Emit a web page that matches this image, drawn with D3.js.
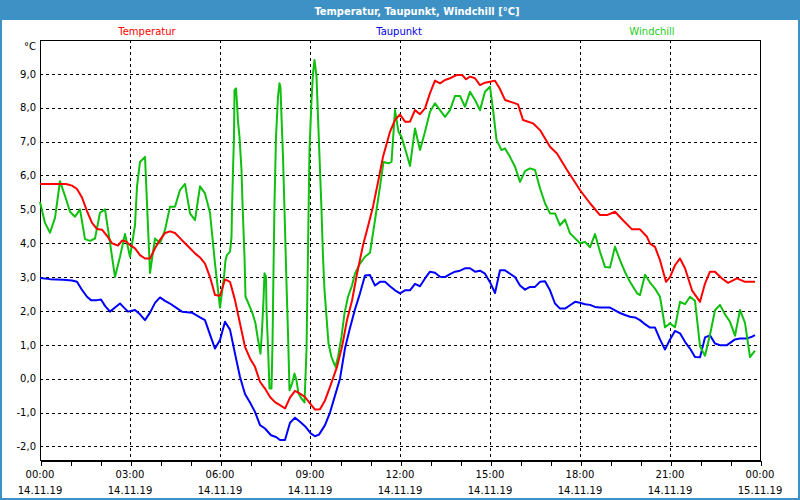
<!DOCTYPE html>
<html><head><meta charset="utf-8">
<script src="https://cdn.jsdelivr.net/npm/d3@7"></script>
<style>
html,body{margin:0;padding:0;background:#fff;}
svg{display:block;}
text{font-family:"DejaVu Sans",sans-serif;}
</style></head>
<body>
<svg id="chart" width="800" height="500"></svg>
<script>
// ---- data (time in minutes after 14.11.19 00:00, values in °C) ----
const chartTitle = "Temperatur, Taupunkt, Windchill [°C]";
const seriesNames = ["Temperatur", "Taupunkt", "Windchill"];
const yTickValues = [-2, -1, 0, 1, 2, 3, 4, 5, 6, 7, 8, 9];
const xTickTimes = ["00:00","03:00","06:00","09:00","12:00","15:00","18:00","21:00","00:00"];
const xTickDates = ["14.11.19","14.11.19","14.11.19","14.11.19","14.11.19","14.11.19","14.11.19","14.11.19","15.11.19"];

const tempMinutes = [0,52,64,74,84,94,104,114,124,134,144,156,164,172,180,190,200,210,220,230,240,250,260,270,280,290,300,310,320,330,340,350,360,370,380,390,400,410,420,430,440,450,460,470,480,490,500,510,520,530,540,550,560,570,580,594,604,614,624,634,646,656,666,676,686,700,710,720,730,740,750,760,770,780,790,800,810,820,834,844,852,860,870,880,890,900,910,920,930,946,956,966,986,1000,1020,1034,1054,1080,1100,1120,1134,1150,1166,1184,1200,1214,1220,1230,1240,1252,1260,1270,1280,1290,1304,1320,1330,1340,1350,1364,1376,1394,1410,1430];
const tempValues = [5.75,5.75,5.7,5.6,5.35,4.95,4.6,4.42,4.4,4.22,4.0,3.93,4.08,4.05,3.95,3.85,3.65,3.55,3.55,3.85,4.1,4.3,4.35,4.3,4.15,4.0,3.85,3.7,3.58,3.4,3.0,2.47,2.45,2.93,2.86,2.32,1.63,0.94,0.6,0.35,-0.09,-0.29,-0.54,-0.69,-0.78,-0.88,-0.56,-0.36,-0.44,-0.54,-0.73,-0.91,-0.9,-0.64,-0.24,0.35,0.94,1.73,2.3,3.1,3.94,4.5,5.08,5.8,6.55,7.29,7.64,7.8,7.59,7.59,7.93,7.81,7.98,8.43,8.8,8.72,8.82,8.87,8.97,8.97,8.84,8.92,8.87,8.67,8.74,8.77,8.8,8.55,8.23,8.15,8.1,7.64,7.54,7.34,6.85,6.65,6.16,5.57,5.18,4.83,4.83,4.93,4.68,4.41,4.41,4.19,3.99,3.89,3.5,2.86,3.0,3.35,3.55,3.26,2.61,2.27,2.81,3.16,3.16,2.96,2.83,2.96,2.86,2.86];

const dewMinutes = [0,20,46,64,74,84,94,102,114,122,130,140,150,160,168,176,190,200,210,220,230,240,250,260,272,284,304,320,330,340,350,360,370,380,390,400,410,420,430,440,450,462,472,480,490,500,510,520,530,542,550,558,570,580,590,600,610,620,630,640,650,660,670,680,690,700,710,720,730,740,750,760,770,780,790,800,810,820,830,840,850,860,870,880,890,900,910,920,930,940,950,960,970,980,990,1000,1010,1020,1030,1040,1050,1060,1070,1080,1090,1100,1110,1120,1140,1150,1160,1170,1180,1190,1200,1210,1220,1230,1240,1250,1260,1270,1280,1290,1300,1310,1320,1330,1340,1350,1360,1374,1390,1400,1414,1424,1430];
const dewValues = [2.97,2.94,2.92,2.9,2.86,2.62,2.42,2.32,2.32,2.34,2.15,1.98,2.1,2.22,2.1,1.98,2.03,1.9,1.73,1.95,2.24,2.4,2.3,2.22,2.1,1.98,1.95,1.81,1.73,1.3,0.89,1.14,1.68,1.45,0.74,0.05,-0.45,-0.7,-0.98,-1.37,-1.47,-1.67,-1.72,-1.81,-1.81,-1.3,-1.15,-1.27,-1.4,-1.62,-1.7,-1.65,-1.37,-1.0,-0.5,0.0,0.9,1.5,2.05,2.52,3.05,3.06,2.75,2.86,2.86,2.73,2.61,2.52,2.61,2.61,2.8,2.73,2.96,3.16,3.13,3.01,3.0,3.09,3.16,3.19,3.26,3.26,3.16,3.19,3.1,2.85,2.53,3.2,3.2,3.1,3.0,2.75,2.63,2.71,2.71,2.86,2.88,2.61,2.22,2.07,2.07,2.17,2.27,2.24,2.2,2.18,2.12,2.1,2.1,2.02,1.94,1.88,1.83,1.81,1.73,1.61,1.51,1.51,1.16,0.86,1.16,1.41,1.34,1.09,0.89,0.64,0.63,1.22,1.28,1.04,0.99,0.99,1.16,1.19,1.19,1.24,1.29];

const chillMinutes = [0,10,20,30,40,50,60,70,80,90,100,110,120,130,140,150,160,170,180,190,194,200,210,220,230,240,250,260,270,280,290,300,310,320,330,340,350,360,368,371,374,380,383,384,386,388,389,392,394,396,399,403,405,409,411,417,425,431,435,441,444,447,449,452,453,456,459,463,465,467,469,472,476,479,481,483,486,489,493,496,499,504,509,513,517,523,529,533,536,539,543,546,549,553,556,559,563,566,569,573,577,583,591,596,603,609,616,624,630,640,650,660,670,680,687,697,703,710,717,723,733,740,750,760,770,780,790,800,810,820,830,840,850,860,870,880,890,900,907,913,923,930,940,950,960,970,980,990,1000,1010,1020,1030,1040,1050,1060,1080,1090,1100,1110,1120,1130,1140,1150,1160,1170,1180,1194,1200,1210,1220,1230,1240,1250,1260,1270,1280,1290,1300,1310,1320,1330,1340,1350,1360,1370,1380,1390,1400,1410,1420,1430];
const chillValues = [5.22,4.6,4.31,4.75,5.83,5.4,4.93,4.78,5.0,4.12,4.07,4.14,4.9,5.0,4.02,3.0,3.6,4.27,3.6,4.53,5.67,6.4,6.55,3.12,4.14,4.0,4.39,5.08,5.08,5.57,5.75,4.88,4.68,5.68,5.47,4.9,3.4,2.1,3.01,3.5,3.65,3.75,4.19,4.98,6.16,7.14,8.52,8.57,8.13,7.59,7.14,6.16,5.18,3.6,2.42,2.22,1.93,1.63,1.24,0.74,1.43,2.32,3.11,3.01,2.02,0.94,-0.29,-0.29,1.04,3.2,5.18,7.14,8.33,8.72,8.6,7.73,6.55,4.98,2.81,1.34,-0.34,-0.15,0.15,-0.05,-0.44,-0.59,-0.7,0.84,3.8,6.75,8.23,9.02,9.41,8.92,7.73,6.55,4.98,3.6,2.61,1.83,1.04,0.64,0.35,0.64,1.24,1.93,2.42,2.75,3.11,3.4,3.6,3.72,4.68,5.67,6.4,6.36,6.4,7.93,7.29,7.14,6.65,6.28,7.39,6.75,7.29,7.88,8.13,7.93,7.73,7.93,8.35,8.35,8.03,8.47,8.23,7.93,8.47,8.62,7.83,7.05,6.75,6.8,6.55,6.26,5.81,6.13,6.21,6.16,5.62,5.18,4.88,4.88,4.53,4.7,4.29,4.0,4.04,3.88,4.27,3.75,3.3,3.28,3.9,3.5,3.15,2.86,2.52,2.47,3.07,2.84,2.66,2.42,1.52,1.64,1.52,2.27,2.2,2.42,2.3,0.96,0.68,1.3,2.02,2.18,1.9,1.68,1.27,2.03,1.65,0.64,0.83];

const lineColors = ["#ff0000", "#0000ff", "#10c010"];
const legendColors = ["#ff0000", "#0000e6", "#22cc22"];

// ---- drawing ----
const W = 800, H = 500;
const M = {left: 40, right: 40, top: 40, bottom: 40};
const svg = d3.select("#chart");

// window frame
svg.append("rect").attr("x",0).attr("y",0).attr("width",W).attr("height",H).attr("fill","#3d91c5");
svg.append("rect").attr("x",2).attr("y",20).attr("width",W-4).attr("height",H-22).attr("fill","#ffffff");
svg.append("text").attr("x",417).attr("y",15).attr("text-anchor","middle")
  .attr("fill","#ffffff").style("font-family","'DejaVu Sans Condensed','DejaVu Sans',sans-serif")
  .style("font-weight","bold").style("font-size","11px").text(chartTitle);

const x = d3.scaleLinear().domain([0, 1440]).range([M.left, W - M.right]);
const y = d3.scaleLinear().domain([-2.4, 10]).range([H - M.bottom, M.top]);

// grid
const grid = svg.append("g").attr("shape-rendering","crispEdges");
grid.selectAll("line.h").data(yTickValues).join("line")
  .attr("x1", x(0)).attr("x2", x(1440))
  .attr("y1", d => Math.round(y(d)) + 0.5).attr("y2", d => Math.round(y(d)) + 0.5)
  .attr("stroke","#000").attr("stroke-width",1).attr("stroke-dasharray","3,3");
const vGrid = d3.range(180, 1440, 180);
grid.selectAll("line.v").data(vGrid).join("line")
  .attr("y1", y(10)).attr("y2", y(-2.4))
  .attr("x1", d => Math.round(x(d)) + 0.5).attr("x2", d => Math.round(x(d)) + 0.5)
  .attr("stroke","#000").attr("stroke-width",1).attr("stroke-dasharray","3,3");

// frame
svg.append("rect").attr("x", x(0) + 0.5).attr("y", y(10) + 0.5)
  .attr("width", x(1440) - x(0)).attr("height", y(-2.4) - y(10))
  .attr("fill","none").attr("stroke","#000").attr("stroke-width",1).attr("shape-rendering","crispEdges");

// x axis
const xAxis = d3.axisBottom(x).tickValues(d3.range(0, 1441, 60)).tickSize(5).tickFormat("");
const gx = svg.append("g").attr("transform", `translate(0.5,${Math.round(y(-2.4)) + 0.5})`).call(xAxis);
gx.select(".domain").attr("stroke","#000").attr("shape-rendering","crispEdges");
gx.selectAll(".tick line").attr("stroke","#000").attr("shape-rendering","crispEdges");
const xLab = svg.append("g").style("font-size","10px").attr("fill","#000");
xLab.selectAll("text.t").data(xTickTimes).join("text")
  .attr("x", (d,i) => x(i*180)).attr("y", 478).attr("text-anchor","middle").text(d => d);
xLab.selectAll("text.d").data(xTickDates).join("text")
  .attr("x", (d,i) => x(i*180)).attr("y", 494).attr("text-anchor","middle").text(d => d);

// y axis labels
const yAxis = d3.axisLeft(y).tickValues(yTickValues).tickSize(0).tickPadding(4)
  .tickFormat(d => d3.format(".1f")(d).replace(".", ",").replace("−","-"));
const gy = svg.append("g").attr("transform", `translate(${x(0)},0)`).call(yAxis);
gy.select(".domain").remove();
gy.selectAll("text").style("font-family","'DejaVu Sans',sans-serif").style("font-size","10px").attr("fill","#000");
svg.append("text").attr("x",36).attr("y",50).attr("text-anchor","end").style("font-size","10px").text("°C");

// legend
const legendX = [147, 399, 652];
svg.selectAll("text.leg").data(seriesNames).join("text")
  .attr("x",(d,i)=>legendX[i]).attr("y",35).attr("text-anchor","middle")
  .style("font-size","10px").attr("fill",(d,i)=>legendColors[i]).text(d=>d);

// lines
const line = d3.line().x(d => x(d[0])).y(d => y(d[1]));
const series = [
  d3.zip(tempMinutes, tempValues),
  d3.zip(dewMinutes, dewValues),
  d3.zip(chillMinutes, chillValues)
];
const drawOrder = [1, 2, 0];
drawOrder.forEach(i => {
  svg.append("path").datum(series[i]).attr("d", line)
    .attr("fill","none").attr("stroke", lineColors[i]).attr("stroke-width", 2)
    .attr("stroke-linejoin","round");
});
</script>
</body></html>
